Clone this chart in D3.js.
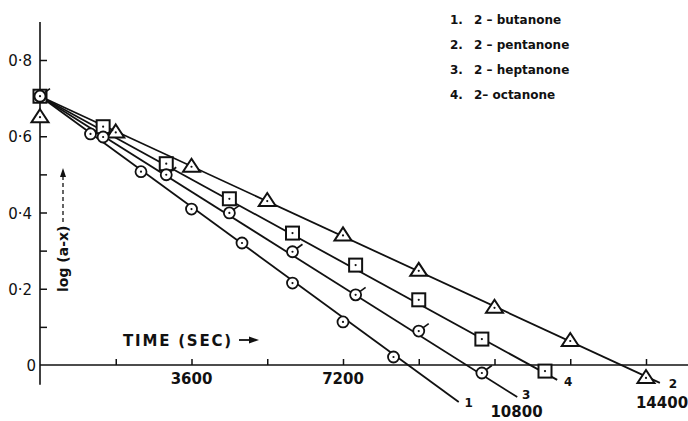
<!DOCTYPE html>
<html>
<head>
<meta charset="utf-8">
<script src="https://cdn.jsdelivr.net/npm/d3@7"></script>
<style>
  body { margin: 0; background: #fff; }
  svg { display: block; }
  text { font-family: "DejaVu Sans", sans-serif; fill: #111; }
</style>
</head>
<body>
<svg width="688" height="421"></svg>
<script>
// series data: time (s) and log(a-x)
var tButanone = [0, 1200, 2400, 3600, 4800, 6000, 7200, 8400];
var vButanone = [0.705, 0.606, 0.507, 0.409, 0.32, 0.215, 0.113, 0.021];

var tPentanone = [0, 1800, 3600, 5400, 7200, 9000, 10800, 12600, 14400];
var vPentanone = [0.65, 0.61, 0.52, 0.43, 0.34, 0.247, 0.15, 0.063, -0.034];

var tHeptanone = [0, 1500, 3000, 4500, 6000, 7500, 9000, 10500];
var vHeptanone = [0.705, 0.598, 0.499, 0.399, 0.297, 0.184, 0.089, -0.021];

var tOctanone = [0, 1500, 3000, 4500, 6000, 7500, 9000, 10500, 12000];
var vOctanone = [0.705, 0.625, 0.528, 0.436, 0.346, 0.262, 0.171, 0.068, -0.016];

// fitted straight lines: common start, individual end
var lineStartT = 0, lineStartV = 0.705;
var lineNames = ["1", "2", "3", "4"];
var lineEndT = [9950, 14730, 11340, 12290];
var lineEndV = [-0.097, -0.047, -0.084, -0.039];

var legendNums = ["1.", "2.", "3.", "4."];
var legendNames = ["2 \u2013 butanone", "2 \u2013 pentanone", "2 \u2013 heptanone", "2\u2013 octanone"];

var xTicks = [1800, 3600, 5400, 7200, 9000, 10800, 12600, 14400];
var xLabels = [3600, 7200, 10800, 14400];
var yTicks = [0.1, 0.2, 0.3, 0.4, 0.5, 0.6, 0.7, 0.8];
var yLabels = [0, 0.2, 0.4, 0.6, 0.8];

var svg = d3.select("svg");
var x = d3.scaleLinear().domain([0, 14400]).range([40, 646]);
var y = d3.scaleLinear().domain([0, 0.8]).range([365, 60]);

// axes
svg.append("line").attr("x1", 40).attr("x2", 688).attr("y1", y(0)).attr("y2", y(0))
    .attr("stroke", "#111").attr("stroke-width", 1.6);
svg.append("line").attr("x1", x(0)).attr("x2", x(0)).attr("y1", y(0.9)).attr("y2", y(-0.052))
    .attr("stroke", "#111").attr("stroke-width", 1.6);

var xAxis = svg.append("g").attr("transform", "translate(0," + y(0) + ")")
    .call(d3.axisBottom(x).tickValues(xTicks).tickSize(-6).tickFormat(""));
xAxis.select(".domain").remove();
xAxis.selectAll("line").attr("stroke", "#111").attr("stroke-width", 1.5);

var yAxis = svg.append("g").attr("transform", "translate(" + x(0) + ",0)")
    .call(d3.axisLeft(y).tickValues(yTicks).tickSize(-7).tickFormat(""));
yAxis.select(".domain").remove();
yAxis.selectAll("line").attr("stroke", "#111").attr("stroke-width", 1.5);

// tick labels
var xLabelShift = { 3600: [0, 0], 7200: [0, 0], 10800: [22, 33], 14400: [16, 24] };
svg.selectAll(".xl").data(xLabels).enter().append("text")
    .attr("x", d => x(d) + xLabelShift[d][0])
    .attr("y", d => y(0) + 19 + xLabelShift[d][1])
    .attr("text-anchor", "middle")
    .style("font-size", "15px").style("font-weight", "bold")
    .text(d => d);

svg.selectAll(".yl").data(yLabels).enter().append("text")
    .attr("x", d => d === 0 ? 36 : 32)
    .attr("y", d => y(d) + 6)
    .attr("text-anchor", "end")
    .style("font-size", "15px")
    .text(d => d === 0 ? "0" : d3.format(".1f")(d).replace(".", "\u00b7"));

// axis titles
svg.append("text")
    .attr("transform", "translate(68,292) rotate(-90)")
    .style("font-size", "14px").style("font-weight", "bold")
    .text("log (a-x)");
svg.append("line").attr("x1", 63).attr("x2", 63).attr("y1", 222).attr("y2", 176)
    .attr("stroke", "#111").attr("stroke-width", 1.3).attr("stroke-dasharray", "4,3");
svg.append("path").attr("d", "M63,168 L60,177 L66,177 Z").attr("fill", "#111");

svg.append("text").attr("x", 123).attr("y", 346)
    .style("font-size", "15px").style("font-weight", "bold").style("letter-spacing", "1.8px")
    .text("TIME (SEC)");
svg.append("line").attr("x1", 239).attr("x2", 254).attr("y1", 340).attr("y2", 340)
    .attr("stroke", "#111").attr("stroke-width", 1.8);
svg.append("path").attr("d", "M259,340 L249,336.5 L249,343.5 Z").attr("fill", "#111");

// fitted lines
var fits = lineNames.map((n, i) => ({ name: n, t0: lineStartT, v0: lineStartV, t1: lineEndT[i], v1: lineEndV[i] }));
svg.append("g").selectAll("line").data(fits).enter().append("line")
    .attr("x1", d => x(d.t0)).attr("y1", d => y(d.v0))
    .attr("x2", d => x(d.t1)).attr("y2", d => y(d.v1))
    .attr("stroke", "#111").attr("stroke-width", 1.8);

var lineLabelShift = { "1": [10, 5], "2": [13, 5], "3": [9, 2], "4": [11, 6] };
svg.append("g").selectAll("text").data(fits).enter().append("text")
    .attr("x", d => x(d.t1) + lineLabelShift[d.name][0])
    .attr("y", d => y(d.v1) + lineLabelShift[d.name][1])
    .attr("text-anchor", "middle")
    .style("font-size", "12px").style("font-weight", "bold")
    .text(d => d.name);

// markers
function pts(ts, vs) { return ts.map((t, i) => ({ t: t, v: vs[i] })); }

function dots(g) {
    g.append("circle").attr("r", 1.1).attr("fill", "#111");
}

var triG = svg.append("g").selectAll("g").data(pts(tPentanone, vPentanone)).enter().append("g")
    .attr("transform", d => "translate(" + x(d.t) + "," + y(d.v) + ")");
triG.append("path").attr("d", "M0,-8 L8.5,5 L-8.5,5 Z")
    .attr("fill", "#fff").attr("stroke", "#111").attr("stroke-width", 2);
dots(triG);

var sqG = svg.append("g").selectAll("g").data(pts(tOctanone, vOctanone)).enter().append("g")
    .attr("transform", d => "translate(" + x(d.t) + "," + y(d.v) + ")");
sqG.append("rect").attr("x", -6.5).attr("y", -6.5).attr("width", 13).attr("height", 13)
    .attr("fill", "#fff").attr("stroke", "#111").attr("stroke-width", 2);
dots(sqG);

var hepG = svg.append("g").selectAll("g").data(pts(tHeptanone, vHeptanone)).enter().append("g")
    .attr("transform", d => "translate(" + x(d.t) + "," + y(d.v) + ")");
hepG.append("circle").attr("r", 5.5)
    .attr("fill", "#fff").attr("stroke", "#111").attr("stroke-width", 1.8);
hepG.append("line").attr("x1", 4.5).attr("y1", -3.5).attr("x2", 10).attr("y2", -7.5)
    .attr("stroke", "#111").attr("stroke-width", 1.6);
dots(hepG);

var butG = svg.append("g").selectAll("g").data(pts(tButanone, vButanone)).enter().append("g")
    .attr("transform", d => "translate(" + x(d.t) + "," + y(d.v) + ")");
butG.append("circle").attr("r", 5.5)
    .attr("fill", "#fff").attr("stroke", "#111").attr("stroke-width", 1.8);
dots(butG);

// legend
var legend = svg.append("g").selectAll("g").data(legendNames).enter().append("g")
    .attr("transform", (d, i) => "translate(0," + (24 + i * 25) + ")");
legend.append("text").attr("x", 450)
    .style("font-size", "12px").style("font-weight", "bold")
    .text((d, i) => legendNums[i]);
legend.append("text").attr("x", 474)
    .style("font-size", "12px").style("font-weight", "bold")
    .text(d => d);
</script>
</body>
</html>
